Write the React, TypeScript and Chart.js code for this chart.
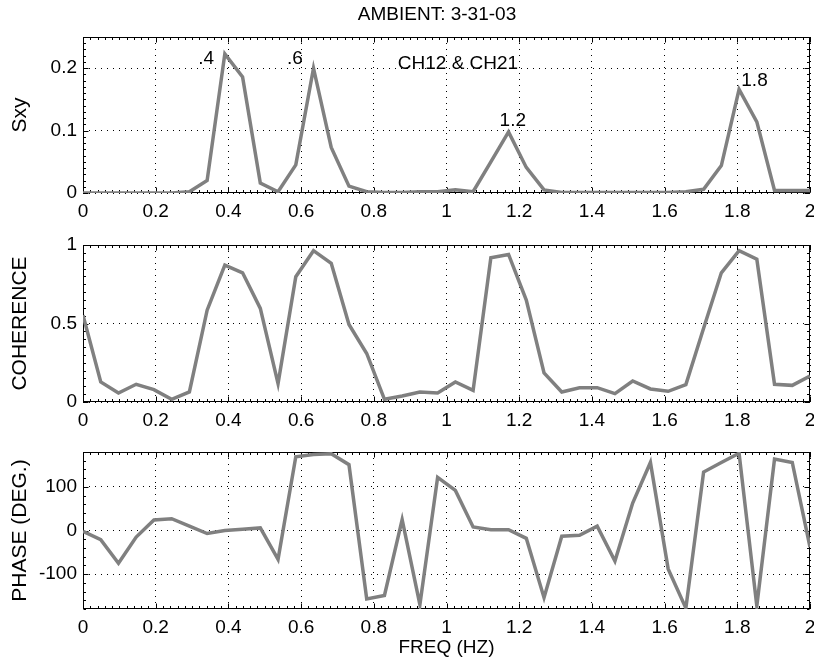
import React, { useEffect, useRef } from 'react';
import { Chart, registerables } from 'chart.js';

Chart.register(...registerables);

// ---------------- data ----------------
const freq = [
  0, 0.0488, 0.0976, 0.1463, 0.1951, 0.2439, 0.2927, 0.3415, 0.3902, 0.439,
  0.4878, 0.5366, 0.5854, 0.6341, 0.6829, 0.7317, 0.7805, 0.8293, 0.878, 0.9268,
  0.9756, 1.0244, 1.0732, 1.122, 1.1707, 1.2195, 1.2683, 1.3171, 1.3659, 1.4146,
  1.4634, 1.5122, 1.561, 1.6098, 1.6585, 1.7073, 1.7561, 1.8049, 1.8537, 1.9024,
  1.9512, 2.0,
];

const sxy = [
  0, 0, 0, 0, 0, 0, 0.002, 0.02, 0.223, 0.186,
  0.016, 0.002, 0.045, 0.2, 0.073, 0.011, 0.002, 0.001, 0.001, 0.002,
  0.002, 0.005, 0.002, 0.05, 0.098, 0.041, 0.005, 0.001, 0.001, 0.001,
  0.001, 0.001, 0.001, 0.001, 0.002, 0.006, 0.044, 0.166, 0.114, 0.004,
  0.004, 0.004,
];

const coherence = [
  0.553, 0.128, 0.057, 0.113, 0.079, 0.017, 0.064, 0.585, 0.872, 0.823,
  0.596, 0.117, 0.798, 0.964, 0.883, 0.494, 0.309, 0.017, 0.038, 0.064,
  0.057, 0.128, 0.074, 0.919, 0.94, 0.649, 0.185, 0.064, 0.091, 0.091,
  0.053, 0.134, 0.083, 0.068, 0.111, 0.47, 0.823, 0.964, 0.909, 0.113,
  0.106, 0.166,
];

const phase = [
  -2, -21, -75, -15, 24, 27, 10, -7, 0, 3,
  6, -66, 169, 174, 176, 151, -157, -149, 25, -170,
  122, 92, 8, 2, 2, -18, -154, -13, -11, 10,
  -70, 63, 156, -88, -178, 134, 156, 177, -173, 164,
  156, -38,
];

const xTicks = [0, 0.2, 0.4, 0.6, 0.8, 1, 1.2, 1.4, 1.6, 1.8, 2];
const sxyTicks = [0, 0.1, 0.2];
const cohTicks = [0, 0.5, 1];
const phaseTicks = [-100, 0, 100];

const figureTitle = 'AMBIENT: 3-31-03';
const peakLabels = [
  { text: '.4', x: 0.317, y: 0.207 },
  { text: '.6', x: 0.561, y: 0.207 },
  { text: 'CH12 & CH21', x: 0.866, y: 0.199 },
  { text: '1.2', x: 1.146, y: 0.107 },
  { text: '1.8', x: 1.811, y: 0.172 },
];

// ---------------- styling ----------------
const FONT = "'Liberation Sans', Arial, Helvetica, sans-serif";
const LINE = 'rgb(128,128,128)';
const W = 814;
const H = 660;
const Y_AXIS_W = 83;

const fmt = (v: number) => String(Math.round(v * 1000) / 1000);

const framePlugin = {
  id: 'frame',
  beforeDatasetsDraw(chart: any, _args: any, opts: any) {
    const { ctx, chartArea, scales } = chart;
    const { left, right, top, bottom } = chartArea;
    const x = scales.x;
    const y = scales.y;
    ctx.save();
    ctx.strokeStyle = '#000';
    ctx.lineWidth = 1;
    const L = Math.round(left) + 0.5;
    const R = Math.round(right) - 0.5;
    const T = Math.round(top) + 0.5;
    const B = Math.round(bottom) - 0.5;
    ctx.strokeRect(L, T, R - L, B - T);
    ctx.beginPath();
    const major = 5;
    const minor = 2.5;
    for (const v of opts.xMajor) {
      const px = Math.round(x.getPixelForValue(v)) + 0.5;
      ctx.moveTo(px, B); ctx.lineTo(px, B - major);
      ctx.moveTo(px, T); ctx.lineTo(px, T + major);
    }
    for (const v of opts.yMajor) {
      const py = Math.round(y.getPixelForValue(v)) + 0.5;
      ctx.moveTo(L, py); ctx.lineTo(L + major, py);
      ctx.moveTo(R, py); ctx.lineTo(R - major, py);
    }
    const nx = Math.round((x.max - x.min) / opts.xMinor);
    for (let k = 0; k <= nx; k++) {
      const px = Math.round(x.getPixelForValue(x.min + k * opts.xMinor)) + 0.5;
      ctx.moveTo(px, B); ctx.lineTo(px, B - minor);
      ctx.moveTo(px, T); ctx.lineTo(px, T + minor);
    }
    const ny = Math.round((y.max - y.min) / opts.yMinor);
    for (let k = 0; k <= ny; k++) {
      const py = Math.round(y.getPixelForValue(y.min + k * opts.yMinor)) + 0.5;
      ctx.moveTo(L, py); ctx.lineTo(L + minor, py);
      ctx.moveTo(R, py); ctx.lineTo(R - minor, py);
    }
    ctx.stroke();
    ctx.restore();
  },
};

const textPlugin = {
  id: 'texts',
  afterDatasetsDraw(chart: any, _args: any, opts: any) {
    const { ctx, scales } = chart;
    ctx.save();
    ctx.fillStyle = '#000';
    ctx.textBaseline = 'alphabetic';
    if (opts.header) {
      ctx.font = `19px ${FONT}`;
      ctx.textAlign = 'center';
      ctx.fillText(opts.header.text, opts.header.x, opts.header.y);
    }
    if (opts.labels) {
      ctx.font = `19px ${FONT}`;
      ctx.textAlign = 'left';
      for (const l of opts.labels) {
        ctx.fillText(l.text, scales.x.getPixelForValue(l.x), scales.y.getPixelForValue(l.y));
      }
    }
    ctx.restore();
  },
};

function makeConfig(p: {
  values: number[];
  yMin: number;
  yMax: number;
  yTicks: number[];
  yMinor: number;
  yTitle: string;
  padTop: number;
  padBottom: number;
  xAxisH: number;
  xTitle?: string;
  texts: any;
}): any {
  return {
    type: 'line',
    data: {
      datasets: [
        {
          data: freq.map((f, i) => ({ x: f, y: p.values[i] })),
          borderColor: LINE,
          borderWidth: 3.5,
          pointRadius: 0,
          tension: 0,
          fill: false,
          borderJoinStyle: 'miter',
        },
      ],
    },
    options: {
      responsive: false,
      animation: false,
      devicePixelRatio: 1,
      events: [],
      layout: { padding: { top: p.padTop, bottom: p.padBottom, left: 0, right: 4 } },
      plugins: {
        legend: { display: false },
        tooltip: { enabled: false },
        title: { display: false },
        frame: { xMajor: xTicks, yMajor: p.yTicks, xMinor: 0.02, yMinor: p.yMinor },
        texts: p.texts,
      },
      scales: {
        x: {
          type: 'linear',
          min: 0,
          max: 2,
          afterBuildTicks: (s: any) => { s.ticks = xTicks.map((v) => ({ value: v })); },
          afterFit: (s: any) => { s.height = p.xAxisH; s.paddingLeft = 0; s.paddingRight = 0; },
          grid: { color: '#000', lineWidth: 1, drawTicks: false },
          border: { display: false, dash: [1, 5] },
          ticks: {
            color: '#000',
            font: { family: FONT, size: 19 },
            padding: 7,
            maxRotation: 0,
            autoSkip: false,
            callback: (v: any) => fmt(Number(v)),
          },
          title: p.xTitle
            ? { display: true, text: p.xTitle, color: '#000', font: { family: FONT, size: 19 }, padding: { top: 0, bottom: 1 } }
            : { display: false },
        },
        y: {
          type: 'linear',
          min: p.yMin,
          max: p.yMax,
          afterBuildTicks: (s: any) => { s.ticks = p.yTicks.map((v) => ({ value: v })); },
          afterFit: (s: any) => { s.width = Y_AXIS_W; s.paddingTop = 0; s.paddingBottom = 0; },
          grid: { color: '#000', lineWidth: 1, drawTicks: false },
          border: { display: false, dash: [1, 5] },
          ticks: {
            color: '#000',
            font: { family: FONT, size: 19 },
            padding: 6,
            autoSkip: false,
            callback: (v: any) => fmt(Number(v)),
          },
          title: { display: true, text: p.yTitle, color: '#000', font: { family: FONT, size: 21 }, padding: { top: 8, bottom: 0 } },
        },
      },
    },
    plugins: [framePlugin, textPlugin],
  };
}

export default function App() {
  const r1 = useRef<HTMLCanvasElement>(null);
  const r2 = useRef<HTMLCanvasElement>(null);
  const r3 = useRef<HTMLCanvasElement>(null);

  useEffect(() => {
    const c1 = new Chart(r1.current as HTMLCanvasElement, makeConfig({
      values: sxy, yMin: 0, yMax: 0.25, yTicks: sxyTicks, yMinor: 0.01, yTitle: 'Sxy',
      padTop: 37, padBottom: H - 193 - 40, xAxisH: 40,
      texts: { header: { text: figureTitle, x: 437, y: 20 }, labels: peakLabels },
    }));
    const c2 = new Chart(r2.current as HTMLCanvasElement, makeConfig({
      values: coherence, yMin: 0, yMax: 1, yTicks: cohTicks, yMinor: 0.05, yTitle: 'COHERENCE',
      padTop: 245, padBottom: H - 402 - 40, xAxisH: 40,
      texts: {},
    }));
    const c3 = new Chart(r3.current as HTMLCanvasElement, makeConfig({
      values: phase, yMin: -180, yMax: 180, yTicks: phaseTicks, yMinor: 20, yTitle: 'PHASE (DEG.)',
      padTop: 452, padBottom: 0, xAxisH: H - 609, xTitle: 'FREQ (HZ)',
      texts: {},
    }));
    return () => { c1.destroy(); c2.destroy(); c3.destroy(); };
  }, []);

  const cs: React.CSSProperties = { position: 'absolute', left: 0, top: 0, width: W, height: H };
  return (
    <div style={{ position: 'absolute', left: 0, top: 0, width: W, height: H, background: '#fff' }}>
      <canvas ref={r1} width={W} height={H} style={cs} />
      <canvas ref={r2} width={W} height={H} style={cs} />
      <canvas ref={r3} width={W} height={H} style={cs} />
    </div>
  );
}
